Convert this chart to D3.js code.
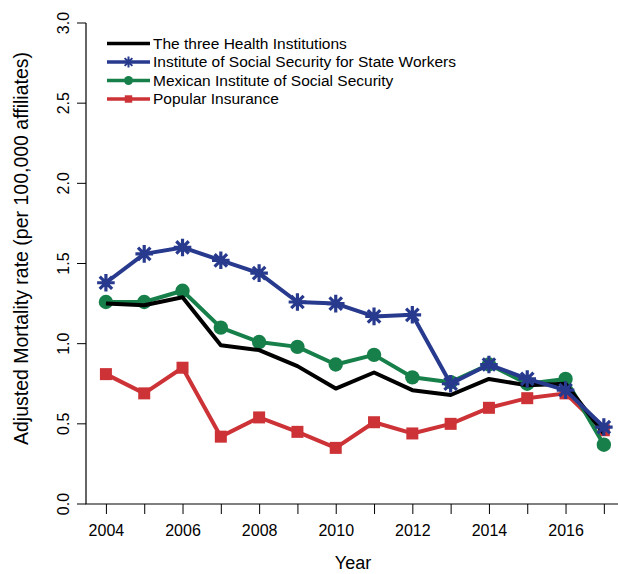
<!DOCTYPE html>
<html><head><meta charset="utf-8">
<script src="https://cdn.jsdelivr.net/npm/d3@7"></script>
<style>body{margin:0;background:#fff}svg{display:block}text{font-family:"Liberation Sans",Arial,sans-serif;fill:#000}</style>
</head><body><svg id="c" width="618" height="574"></svg>
<script>
const years = [2004,2005,2006,2007,2008,2009,2010,2011,2012,2013,2014,2015,2016,2017];
const threeInst = [1.25,1.24,1.29,0.99,0.96,0.86,0.72,0.82,0.71,0.68,0.78,0.74,0.75,0.44];
const issste    = [1.38,1.56,1.60,1.52,1.44,1.26,1.25,1.17,1.18,0.75,0.87,0.78,0.71,0.48];
const imss      = [1.26,1.26,1.33,1.10,1.01,0.98,0.87,0.93,0.79,0.76,0.87,0.75,0.78,0.37];
const popular   = [0.81,0.69,0.85,0.42,0.54,0.45,0.35,0.51,0.44,0.50,0.60,0.66,0.69,0.46];
const seriesNames = ["The three Health Institutions","Institute of Social Security for State Workers","Mexican Institute of Social Security","Popular Insurance"];
const yTicks = [0,0.5,1.0,1.5,2.0,2.5,3.0];
const xLabelYears = [2004,2006,2008,2010,2012,2014,2016];

const series = [
  {name:seriesNames[0], values:threeInst, color:"#000000", marker:"none"},
  {name:seriesNames[1], values:issste, color:"#283a8e", marker:"star"},
  {name:seriesNames[2], values:imss, color:"#17804a", marker:"circle"},
  {name:seriesNames[3], values:popular, color:"#cc3236", marker:"square"}
];
const drawOrder = [3,2,0,1];

const svg = d3.select("#c");
svg.append("rect").attr("width",618).attr("height",574).attr("fill","#fff");
const L=86, R=623, T=23, B=504;
const x = d3.scaleLinear().domain([2003.48,2017.5]).range([L,R]);
const y = d3.scaleLinear().domain([0,3]).range([B,T]);

// y axis
const ya = svg.append("g").attr("transform",`translate(${L},0)`)
  .call(d3.axisLeft(y).tickValues(yTicks).tickFormat(d3.format(".1f")).tickSize(9));
ya.select(".domain").remove();
ya.selectAll(".tick").attr("transform",null);
ya.selectAll(".tick line").attr("y1",d=>y(d)).attr("y2",d=>y(d)).attr("x2",-9).attr("stroke","#000");
ya.selectAll(".tick text").attr("font-size",16).attr("text-anchor","middle").attr("x",0).attr("y",0).attr("dy","0.35em")
  .attr("transform",d=>`translate(-23,${y(d)}) rotate(-90)`);

// x axis
const xa = svg.append("g").attr("transform",`translate(0,${B})`)
  .call(d3.axisBottom(x).tickValues(years).tickFormat(d=>xLabelYears.includes(d)?String(d):"").tickSize(10).tickPadding(11));
xa.select(".domain").remove();
xa.selectAll("text").attr("font-size",16);
xa.selectAll("line").attr("stroke","#000");

// L-shaped box
svg.append("path").attr("d",`M${L},${T}V${B}H${R}`).attr("fill","none").attr("stroke","#000").attr("stroke-width",1.2);

// axis titles
svg.append("text").attr("x",353).attr("y",569).attr("text-anchor","middle").attr("font-size",18).text("Year");
svg.append("text").attr("transform",`translate(21,${(T+B)/2-15}) rotate(-90)`).attr("text-anchor","middle").attr("dy","0.35em").attr("font-size",19.5).text("Adjusted Mortality rate (per 100,000 affiliates)");

function drawMarker(g, type, cx, cy, color, s){
  if(type==="circle"){
    g.append("circle").attr("cx",cx).attr("cy",cy).attr("r",7.2*s).attr("fill",color);
  } else if(type==="square"){
    const h=6*s;
    g.append("rect").attr("x",cx-h).attr("y",cy-h).attr("width",2*h).attr("height",2*h).attr("fill",color);
  } else if(type==="star"){
    const a=8.8*s, b=a*0.707;
    g.append("path").attr("d",`M${cx-a},${cy}H${cx+a}M${cx},${cy-a}V${cy+a}M${cx-b},${cy-b}L${cx+b},${cy+b}M${cx-b},${cy+b}L${cx+b},${cy-b}`)
      .attr("stroke",color).attr("stroke-width",3.2*s).attr("fill","none");
    g.append("circle").attr("cx",cx).attr("cy",cy).attr("r",4*s).attr("fill",color);
  }
}

const line = d3.line().x((d,i)=>x(years[i])).y(d=>y(d));
drawOrder.forEach(k=>{
  const s = series[k];
  const g = svg.append("g");
  g.append("path").datum(s.values).attr("d",line).attr("fill","none").attr("stroke",s.color).attr("stroke-width",4).attr("stroke-linejoin","round");
  s.values.forEach((v,i)=>drawMarker(g,s.marker,x(years[i]),y(v),s.color,1));
});

// legend
const lg = svg.append("g");
series.forEach((s,i)=>{
  const yy = 43.5 + i*18.5;
  lg.append("line").attr("x1",107).attr("x2",150).attr("y1",yy).attr("y2",yy).attr("stroke",s.color).attr("stroke-width",3.5);
  drawMarker(lg,s.marker,128.5,yy,s.color,0.62);
  lg.append("text").attr("x",153).attr("y",yy).attr("dy","0.35em").attr("font-size",15.5).text(s.name);
});
</script></body></html>
